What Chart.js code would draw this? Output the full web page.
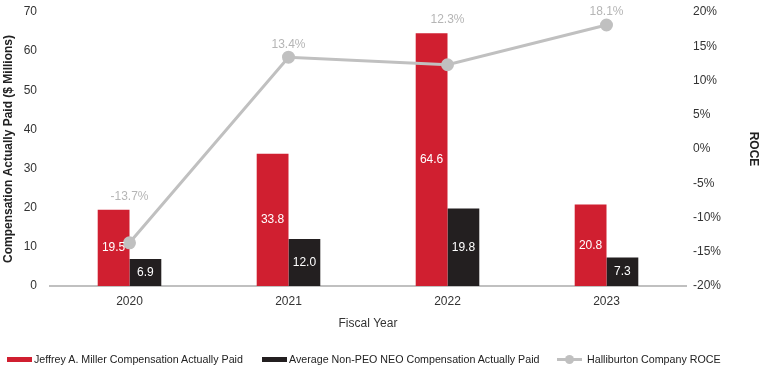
<!DOCTYPE html>
<html>
<head>
<meta charset="utf-8">
<script src="https://cdn.jsdelivr.net/npm/chart.js@4/dist/chart.umd.min.js"></script>
<style>
body{margin:0;background:#fff;}
#wrap{position:relative;width:761px;height:368px;font-family:"Liberation Sans",Arial,sans-serif;}
#legend{position:absolute;left:0;top:352px;width:761px;height:14px;font-size:10.7px;color:#222;}
.li{position:absolute;top:0;display:flex;align-items:center;height:14px;white-space:nowrap;}
.sw{display:inline-block;width:25px;height:5px;margin-right:2px;}
.ln{position:relative;display:inline-block;width:25px;height:3px;background:#c0c0c0;margin-right:5px;}
.ln:after{content:"";position:absolute;left:8px;top:-3px;width:9px;height:9px;border-radius:50%;background:#c0c0c0;}
</style>
</head>
<body>
<div id="wrap">
<canvas id="c" width="761" height="368"></canvas>
<div id="legend"></div>
</div>
<script>
const years=['2020','2021','2022','2023'];
const millerPay=[19.5,33.8,64.6,20.8];
const neoPay=[6.9,12.0,19.8,7.3];
const roce=[-13.7,13.4,12.3,18.1];
const seriesNames=['Jeffrey A. Miller Compensation Actually Paid','Average Non-PEO NEO Compensation Actually Paid','Halliburton Company ROCE'];

const RED='#d01f30',BLACK='#231f20',GRAY='#c0c0c0';
const FONT='"Liberation Sans", Arial, sans-serif';

// white value labels inside bars, grey % labels above the ROCE points
const labelPlugin={
id:'labels',
afterDatasetsDraw(chart){
const ctx=chart.ctx;
ctx.save();
ctx.font='12px '+FONT;
ctx.textAlign='center';
ctx.textBaseline='middle';
[0,1].forEach(di=>{
const meta=chart.getDatasetMeta(di);
meta.data.forEach((b,i)=>{
ctx.fillStyle='#fff';
const v=chart.data.datasets[di].data[i];
ctx.fillText(v.toFixed(1),b.x,(b.y+b.base)/2);
});
});
const redMeta=chart.getDatasetMeta(0);
const lm=chart.getDatasetMeta(2);
lm.data.forEach((p,i)=>{
const top=Math.min(p.y,redMeta.data[i].y);
ctx.fillStyle='#b5b5b5';
ctx.fillText(roce[i].toFixed(1)+'%',p.x,top-13);
});
ctx.restore();
}
};

function fixY(w){
return function(s){s.width=w;s.paddingTop=0;s.paddingBottom=0;};
}

new Chart(document.getElementById('c'),{
type:'bar',
data:{
labels:years,
datasets:[
{label:seriesNames[0],data:millerPay,backgroundColor:RED,yAxisID:'y',order:1,categoryPercentage:0.4,barPercentage:1.0},
{label:seriesNames[1],data:neoPay,backgroundColor:BLACK,yAxisID:'y',order:1,categoryPercentage:0.4,barPercentage:1.0},
{type:'line',label:seriesNames[2],data:roce,yAxisID:'y1',order:0,borderColor:GRAY,backgroundColor:GRAY,borderWidth:3,pointRadius:5,pointHoverRadius:5,tension:0}
]
},
options:{
responsive:false,
animation:false,
layout:{padding:{top:12,bottom:0,left:0,right:0}},
plugins:{legend:{display:false},tooltip:{enabled:false}},
scales:{
x:{
grid:{display:false,drawTicks:false},
border:{display:true,color:GRAY,width:2},
ticks:{color:'#333',font:{family:FONT,size:12},padding:8},
title:{display:true,text:'Fiscal Year',color:'#333',font:{family:FONT,size:12},padding:{top:0,bottom:37}},
afterFit(s){s.height=82;}
},
y:{
position:'left',min:0,max:70,
grid:{display:false,drawTicks:false},
border:{display:false},
ticks:{stepSize:10,color:'#333',font:{family:FONT,size:12},padding:13},
title:{display:true,text:'Compensation Actually Paid ($ Millions)',color:'#222',font:{family:FONT,size:12,weight:'bold'},padding:{top:1,bottom:0}},
afterFit:fixY(50)
},
y1:{
position:'right',min:-20,max:20,
grid:{display:false,drawTicks:false},
border:{display:false},
ticks:{stepSize:5,color:'#333',font:{family:FONT,size:12},padding:7,callback:v=>v+'%'},
title:{display:true,text:'ROCE',color:'#222',font:{family:FONT,size:12,weight:'bold'},padding:{top:0,bottom:0}},
afterFit:fixY(75)
}
}
},
plugins:[labelPlugin]
});

const lg=document.getElementById('legend');
const lefts=[7,262,557];
const kinds=[RED,BLACK,null];
seriesNames.forEach((n,i)=>{
const d=document.createElement('div');
d.className='li';
d.style.left=lefts[i]+'px';
const s=document.createElement('span');
if(kinds[i]){s.className='sw';s.style.background=kinds[i];}else{s.className='ln';}
d.appendChild(s);
d.appendChild(document.createTextNode(n));
lg.appendChild(d);
});
</script>
</body>
</html>
